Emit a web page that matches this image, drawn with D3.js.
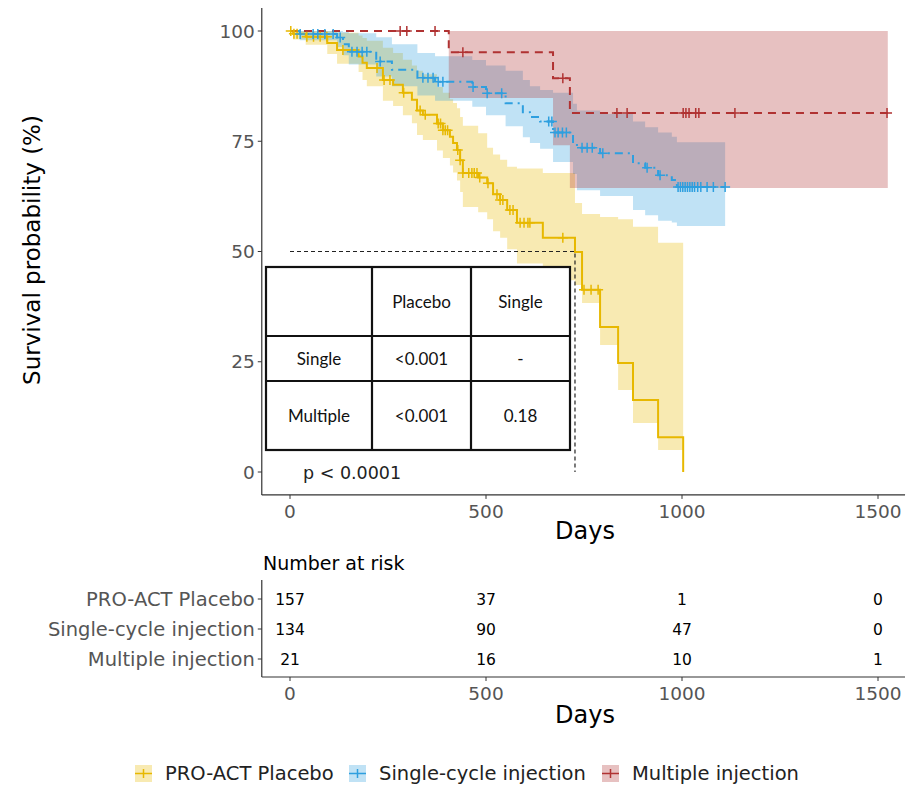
<!DOCTYPE html>
<html>
<head>
<meta charset="utf-8">
<script src="https://cdn.jsdelivr.net/npm/d3@7"></script>
<style>
  body { margin: 0; background: #fff; }
  svg text { font-family: "DejaVu Sans", sans-serif; }
</style>
</head>
<body>
<div id="chart"></div>
<script>
// Kaplan-Meier curves (days, survival %)
var groups = ["PRO-ACT Placebo", "Single-cycle injection", "Multiple injection"];
var colors = ["#E7B800", "#2E9FDF", "#B03232"];

var placeboT  = [0, 8, 40, 95, 120, 175, 185, 196, 237, 263, 288, 311, 324, 339, 375, 390, 408, 416, 426, 434, 441, 480, 503, 518, 536, 554, 579, 645, 727, 745, 791, 837, 875, 939, 1003];
var placeboS  = [100, 99.4, 98.7, 97.3, 95.7, 94.2, 92.8, 91.6, 88.9, 87.8, 86.0, 84.4, 82.0, 81.0, 79.0, 77.5, 76.0, 74.6, 73.0, 70.7, 67.8, 66.8, 65.5, 63.0, 61.7, 59.4, 56.5, 53.1, 49.9, 41.3, 32.9, 24.7, 16.3, 7.9, 0];
var placeboLo = [100, 98.1, 96.9, 94.8, 92.6, 90.7, 88.9, 87.5, 84.2, 83.0, 80.9, 79.1, 76.4, 75.3, 72.9, 71.2, 69.5, 67.9, 66.1, 63.5, 60.1, 58.9, 57.3, 54.6, 53.1, 50.5, 47.3, 43.5, 42.4, 38.3, 28.8, 18.6, 11.1, 5.0, 0];
var placeboHi = [100, 100, 100, 100, 99.6, 99.0, 98.4, 97.8, 96.2, 95.0, 93.5, 92.2, 91.0, 90.2, 87.3, 86.0, 84.5, 83.7, 82.5, 80.5, 78.5, 76.8, 73.5, 72.0, 70.8, 69.2, 68.8, 67.8, 61.0, 58.5, 57.8, 57.3, 55.6, 52.0, 0];
var placeboCens = [2, 10, 18, 43, 60, 77, 94, 135, 222, 240, 255, 290, 332, 345, 378, 384, 390, 396, 402, 428, 434, 441, 456, 464, 470, 477, 484, 505, 528, 536, 543, 561, 569, 587, 597, 607, 612, 696, 750, 768, 786];

var singleT  = [0, 25, 120, 135, 150, 220, 260, 325, 370, 465, 500, 550, 594, 612, 638, 671, 722, 732, 791, 875, 906, 939, 974, 987];
var singleS  = [100, 99.3, 98.5, 97.0, 95.3, 93.1, 91.2, 89.4, 88.5, 87.3, 85.9, 83.6, 81.6, 80.5, 79.5, 77.0, 74.6, 73.5, 72.3, 70.0, 69.0, 67.3, 66.2, 64.6];
var singleLo = [100, 97.9, 96.4, 94.5, 92.4, 89.7, 87.5, 85.4, 84.2, 82.8, 80.9, 78.4, 75.9, 74.6, 73.3, 70.3, 67.6, 63.9, 62.6, 59.4, 58.2, 57.0, 56.6, 55.8];
var singleHi = [100, 100, 100, 99.8, 99.5, 98.6, 97.0, 95.0, 94.3, 93.4, 92.2, 91.0, 88.9, 87.5, 86.6, 86.0, 83.5, 82.0, 81.2, 79.5, 78.2, 77.0, 76.0, 74.8];
var singleCens = [26, 59, 71, 89, 110, 128, 158, 171, 184, 196, 230, 339, 352, 365, 378, 390, 467, 503, 540, 660, 668, 676, 684, 695, 705, 745, 758, 771, 798, 911, 944, 990, 996, 1002, 1008, 1014, 1020, 1026, 1032, 1040, 1048, 1064, 1080, 1110];

var multipleT  = [0, 405, 671, 714];
var multipleS  = [100, 95.2, 89.3, 81.4];
var multipleLo = [100, 84.8, 74.1, 64.4];
var multipleHi = [100, 100, 100, 100];
var multipleCens = [281, 298, 370, 441, 696, 834, 860, 1003, 1010, 1018, 1035, 1043, 1135, 1523];

var lastTime = [1003, 1110, 1525];
var medianDay = 727;

var xTicks = [0, 500, 1000, 1500];
var yTicks = [0, 25, 50, 75, 100];

var riskRows = ["PRO-ACT Placebo", "Single-cycle injection", "Multiple injection"];
var riskTimes = [0, 500, 1000, 1500];
var riskPlacebo = [157, 37, 1, 0];
var riskSingle = [134, 90, 47, 0];
var riskMultiple = [21, 16, 10, 1];

var tableHead = ["", "Placebo", "Single"];
var tableRow1 = ["Single", "<0.001", "-"];
var tableRow2 = ["Multiple", "<0.001", "0.18"];

var W = 917, H = 785;
var svg = d3.select("#chart").append("svg").attr("width", W).attr("height", H);

var x = d3.scaleLinear().domain([0, 1500]).range([290, 878]);
var y = d3.scaleLinear().domain([0, 100]).range([472, 31]);
var xExt = [-72, 1569];
var yExt = [-5.2, 105.2];

function build(T, S, Lo, Hi, end) {
  var pts = T.map(function(t, i) { return {t: t, s: S[i], lo: Lo[i], hi: Hi[i]}; });
  var last = pts[pts.length - 1];
  if (end > last.t) pts.push({t: end, s: last.s, lo: last.lo, hi: last.hi});
  return pts;
}
var series = [
  {name: groups[0], color: colors[0], pts: build(placeboT, placeboS, placeboLo, placeboHi, lastTime[0]), T: placeboT, S: placeboS, cens: placeboCens, dash: null},
  {name: groups[1], color: colors[1], pts: build(singleT, singleS, singleLo, singleHi, lastTime[1]), T: singleT, S: singleS, cens: singleCens, dash: "2,5,8,5"},
  {name: groups[2], color: colors[2], pts: build(multipleT, multipleS, multipleLo, multipleHi, lastTime[2]), T: multipleT, S: multipleS, cens: multipleCens, dash: "8,6"}
];

var area = d3.area().curve(d3.curveStepAfter)
  .x(function(d) { return x(d.t); })
  .y0(function(d) { return y(d.lo); })
  .y1(function(d) { return y(d.hi); });
var line = d3.line().curve(d3.curveStepAfter)
  .x(function(d) { return x(d.t); })
  .y(function(d) { return y(d.s); });

// bands
svg.append("g").selectAll("path").data(series).enter().append("path")
  .attr("d", function(d) { return area(d.pts); })
  .attr("fill", function(d) { return d.color; })
  .attr("fill-opacity", 0.3);

// median line
svg.append("path")
  .attr("d", "M" + x(0) + "," + y(50) + "H" + x(medianDay) + "V" + y(0))
  .attr("fill", "none").attr("stroke", "#222").attr("stroke-width", 1.2).attr("stroke-dasharray", "4,3");

// curves
svg.append("g").selectAll("path").data(series).enter().append("path")
  .attr("d", function(d) { return line(d.pts); })
  .attr("fill", "none")
  .attr("stroke", function(d) { return d.color; })
  .attr("stroke-width", 2)
  .attr("stroke-dasharray", function(d) { return d.dash; });

// censor marks
series.forEach(function(g) {
  var marks = svg.append("g").attr("stroke", g.color).attr("stroke-width", 1.5);
  g.cens.forEach(function(t) {
    var i = d3.bisectRight(g.T, t) - 1;
    var cx = x(t), cy = y(g.S[i]);
    marks.append("path").attr("d", "M" + (cx - 5) + "," + cy + "H" + (cx + 5) + "M" + cx + "," + (cy - 5) + "V" + (cy + 5));
  });
});

// axes
function drawAxes(g, yTop, yBot) {
  g.append("line").attr("x1", x(xExt[0])).attr("x2", x(xExt[0])).attr("y1", yTop).attr("y2", yBot).attr("stroke", "#333").attr("stroke-width", 1.2);
  g.append("line").attr("x1", x(xExt[0])).attr("x2", x(xExt[1])).attr("y1", yBot).attr("y2", yBot).attr("stroke", "#333").attr("stroke-width", 1.2);
  xTicks.forEach(function(v) {
    g.append("line").attr("x1", x(v)).attr("x2", x(v)).attr("y1", yBot).attr("y2", yBot + 4).attr("stroke", "#333");
    g.append("text").attr("x", x(v)).attr("y", yBot + 23).attr("text-anchor", "middle")
      .attr("font-size", 18.5).attr("fill", "#555").text(v);
  });
}
var main = svg.append("g");
drawAxes(main, y(yExt[1]), y(yExt[0]));
yTicks.forEach(function(v) {
  main.append("line").attr("x1", x(xExt[0]) - 4).attr("x2", x(xExt[0])).attr("y1", y(v)).attr("y2", y(v)).attr("stroke", "#333");
  main.append("text").attr("x", x(xExt[0]) - 7).attr("y", y(v) + 6.5).attr("text-anchor", "end")
    .attr("font-size", 18.5).attr("fill", "#555").text(v);
});
main.append("text").attr("x", 585).attr("y", 539).attr("text-anchor", "middle").attr("font-size", 24).attr("fill", "#000").text("Days");
main.append("text").attr("transform", "translate(40," + 250 + ") rotate(-90)").attr("text-anchor", "middle")
  .attr("font-size", 23).attr("fill", "#000").text("Survival probability (%)");

// pairwise p-value table
var tbl = {cols: [266, 372, 471, 570], rows: [267, 336, 381, 450]};
var tg = svg.append("g");
tg.append("rect").attr("x", tbl.cols[0]).attr("y", tbl.rows[0]).attr("width", tbl.cols[3] - tbl.cols[0]).attr("height", tbl.rows[3] - tbl.rows[0])
  .attr("fill", "#fff").attr("stroke", "#111").attr("stroke-width", 2.2);
tbl.cols.slice(1, 3).forEach(function(c) {
  tg.append("line").attr("x1", c).attr("x2", c).attr("y1", tbl.rows[0]).attr("y2", tbl.rows[3]).attr("stroke", "#111").attr("stroke-width", 2.2);
});
tbl.rows.slice(1, 3).forEach(function(r) {
  tg.append("line").attr("x1", tbl.cols[0]).attr("x2", tbl.cols[3]).attr("y1", r).attr("y2", r).attr("stroke", "#111").attr("stroke-width", 2.2);
});
[tableHead, tableRow1, tableRow2].forEach(function(row, ri) {
  row.forEach(function(txt, ci) {
    tg.append("text").attr("x", (tbl.cols[ci] + tbl.cols[ci + 1]) / 2).attr("y", (tbl.rows[ri] + tbl.rows[ri + 1]) / 2 + 6)
      .attr("text-anchor", "middle").style("font-family", "Lato, 'Open Sans', sans-serif").attr("font-size", 17).attr("fill", "#111").text(txt);
  });
});
svg.append("text").attr("x", 303).attr("y", 479).attr("font-size", 17.5).attr("fill", "#222").text("p < 0.0001");

// risk table
var rk = svg.append("g");
var rowY = d3.scalePoint().domain(riskRows).range([599, 659]);
drawAxes(rk, 580, 677);
rk.append("text").attr("x", 263).attr("y", 570).attr("font-size", 19).attr("fill", "#000").text("Number at risk");
var riskData = [riskPlacebo, riskSingle, riskMultiple];
riskRows.forEach(function(r, i) {
  rk.append("line").attr("x1", x(xExt[0]) - 4).attr("x2", x(xExt[0])).attr("y1", rowY(r)).attr("y2", rowY(r)).attr("stroke", "#333");
  rk.append("text").attr("x", x(xExt[0]) - 7).attr("y", rowY(r) + 7).attr("text-anchor", "end")
    .attr("font-size", 19.5).attr("fill", "#555").text(r);
  riskTimes.forEach(function(t, j) {
    rk.append("text").attr("x", x(t)).attr("y", rowY(r) + 6).attr("text-anchor", "middle")
      .attr("font-size", 15.5).attr("fill", "#000").text(riskData[i][j]);
  });
});
rk.append("text").attr("x", 585).attr("y", 723).attr("text-anchor", "middle").attr("font-size", 24).attr("fill", "#000").text("Days");

// legend
var legX = [135, 349, 602];
var lg = svg.append("g");
series.forEach(function(g, i) {
  var kx = legX[i], ky = 765;
  lg.append("rect").attr("x", kx).attr("y", ky).attr("width", 17).attr("height", 17).attr("fill", g.color).attr("fill-opacity", 0.3);
  lg.append("path").attr("d", "M" + kx + "," + (ky + 8.5) + "H" + (kx + 17) + "M" + (kx + 8.5) + "," + (ky + 4) + "V" + (ky + 13))
    .attr("stroke", g.color).attr("stroke-width", 1.5);
  lg.append("text").attr("x", kx + 30).attr("y", ky + 15).attr("font-size", 19.5).attr("fill", "#222").text(g.name);
});
</script>
</body>
</html>
